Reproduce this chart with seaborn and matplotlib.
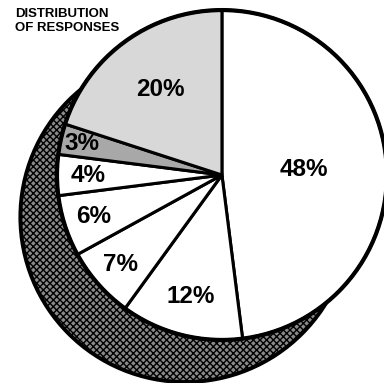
import numpy as np
import matplotlib
matplotlib.use("Agg")
import matplotlib.pyplot as plt
from matplotlib.patches import Circle
import seaborn as sns

# Survey response shares, clockwise from the top
labels = ["48%", "12%", "7%", "6%", "4%", "3%", "20%"]
shares = [48, 12, 7, 6, 4, 3, 20]
title = "DISTRIBUTION\nOF RESPONSES"

sns.set_theme(style="white")
plt.rcParams["font.family"] = ["Liberation Sans", "DejaVu Sans"]
plt.rcParams["hatch.linewidth"] = 1.0

fills = ["white", "white", "white", "white", "white", "#a8a8a8", "#d8d8d8"]
label_radius = [0.50, 0.76, 0.82, 0.82, 0.81, 0.87, 0.64]

fig = plt.figure(figsize=(3.84, 3.83), dpi=100)
ax = fig.add_axes([0, 0, 1, 1])

# offset drop shadow behind the pie
shadow = Circle((-0.222, -0.255), 1.0, facecolor="#8a8a8a", edgecolor="black",
                hatch="xxxxx", linewidth=2.8, zorder=1)
ax.add_patch(shadow)

wedges, _ = ax.pie(shares, colors=fills, startangle=90, counterclock=False,
                   radius=1.0, center=(0, 0), frame=True,
                   wedgeprops=dict(edgecolor="black", linewidth=2.2))
for w in wedges:
    w.set_zorder(2)
ax.set_xlim(-1.345, 0.982)
ax.set_ylim(-1.261, 1.061)
ax.set_aspect("equal")
ax.axis("off")

ax.add_patch(Circle((0, 0), 1.0, facecolor="none", edgecolor="black",
                    linewidth=3.0, zorder=3))

for w, lab, r in zip(wedges, labels, label_radius):
    mid = np.deg2rad((w.theta1 + w.theta2) / 2)
    ax.text(r * np.cos(mid), r * np.sin(mid), lab, ha="center", va="center",
            fontsize=17.5, fontweight="bold", color="black", zorder=4)

fig.text(15 / 384, 1 - 8 / 383, title, ha="left", va="top", fontsize=9.5,
         fontweight="bold", linespacing=1.25, color="black")

fig.savefig("out.png", dpi=100)
